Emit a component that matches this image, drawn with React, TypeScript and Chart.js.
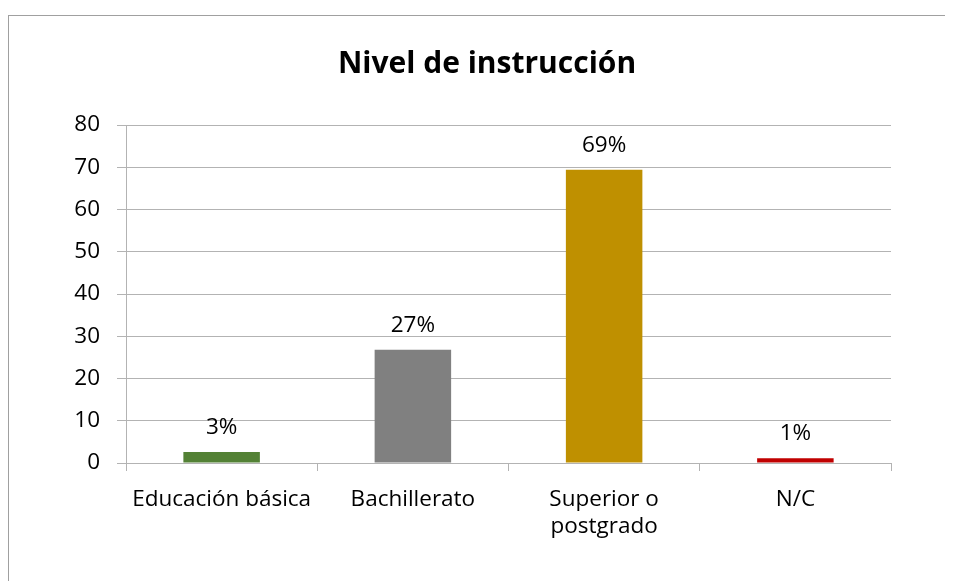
import React, { useEffect, useRef } from "react";
import { Chart, registerables } from "chart.js";

Chart.register(...registerables);

const TITLE = "Nivel de instrucción";
const CATEGORIES: (string | string[])[] = ["Educación básica", "Bachillerato", ["Superior o", "postgrado"], "N/C"];
const VALUES = [2.6, 26.8, 69.4, 1.1];
const LABELS = ["3%", "27%", "69%", "1%"];
const COLORS = ["#538135", "#808080", "#bf9000", "#c00000"];
const Y_MIN = 0;
const Y_MAX = 80;
const Y_STEP = 10;

const FONT = "'Open Sans', 'Noto Sans', sans-serif";

export default function App() {
  const ref = useRef<HTMLCanvasElement | null>(null);
  useEffect(() => {
    if (!ref.current) return;
    const labelPlugin = {
      id: "barLabels",
      afterDatasetsDraw(chart: any) {
        const ctx = chart.ctx;
        const meta = chart.getDatasetMeta(0);
        ctx.save();
        ctx.font = `22.5px ${FONT}`;
        ctx.fillStyle = "#000";
        ctx.textAlign = "center";
        ctx.textBaseline = "alphabetic";
        meta.data.forEach((bar: any, i: number) => {
          ctx.fillText(LABELS[i], bar.x, bar.y - 18);
        });
        ctx.restore();
      },
    };
    const chart = new Chart(ref.current, {
      type: "bar",
      data: {
        labels: CATEGORIES as any,
        datasets: [
          {
            data: VALUES,
            backgroundColor: COLORS,
            borderWidth: 0,
            categoryPercentage: 1,
            barPercentage: 0.4,
            yAxisID: "y",
          },
        ],
      },
      options: {
        animation: false,
        responsive: false,
        maintainAspectRatio: false,
        layout: { padding: { left: 0, right: 0, top: 0, bottom: 0 } },
        plugins: {
          legend: { display: false },
          tooltip: { enabled: false },
          title: {
            display: true,
            text: TITLE,
            color: "#000",
            font: { family: FONT, size: 30, weight: "bold", lineHeight: 1.2 },
            padding: { top: 38, bottom: 43 },
          },
        },
        scales: {
          x: {
            grid: {
              display: true,
              drawOnChartArea: false,
              drawTicks: true,
              tickLength: 8,
              color: "#b3b3b3",
              offset: true,
            },
            border: { display: true, color: "#b3b3b3", width: 1 },
            ticks: {
              color: "#000",
              font: { family: FONT, size: 22.5, lineHeight: 1.2 },
              maxRotation: 0,
              autoSkip: false,
              padding: 15,
            },
            afterFit: (s: any) => {
              s.height = 118;
            },
          },
          y: {
            min: Y_MIN,
            max: Y_MAX,
            grid: {
              color: "#b3b3b3",
              drawTicks: true,
              tickLength: 9,
            },
            border: { display: true, color: "#b3b3b3", width: 1 },
            ticks: {
              stepSize: Y_STEP,
              color: "#000",
              font: { family: FONT, size: 22.5 },
              padding: 17,
            },
            afterFit: (s: any) => {
              s.width = 105;
            },
          },
          yRight: {
            position: "right",
            display: true,
            min: Y_MIN,
            max: Y_MAX,
            grid: { display: false, drawOnChartArea: false, drawTicks: false },
            border: { display: false },
            ticks: { display: false },
            afterFit: (s: any) => {
              s.width = 62;
            },
          },
        },
      },
      plugins: [labelPlugin],
    });
    return () => chart.destroy();
  }, []);

  return (
    <div style={{ position: "relative", width: 945, height: 573 }}>
      <div
        style={{
          position: "absolute",
          left: 0,
          top: 7,
          width: 945,
          height: 566,
          borderTop: "1px solid #a0a0a0",
          borderLeft: "1px solid #a0a0a0",
          boxSizing: "border-box",
        }}
      />
      <canvas
        ref={ref}
        width={932}
        height={573}
        style={{ position: "absolute", left: 13, top: 0, width: 932, height: 573 }}
      />
    </div>
  );
}
